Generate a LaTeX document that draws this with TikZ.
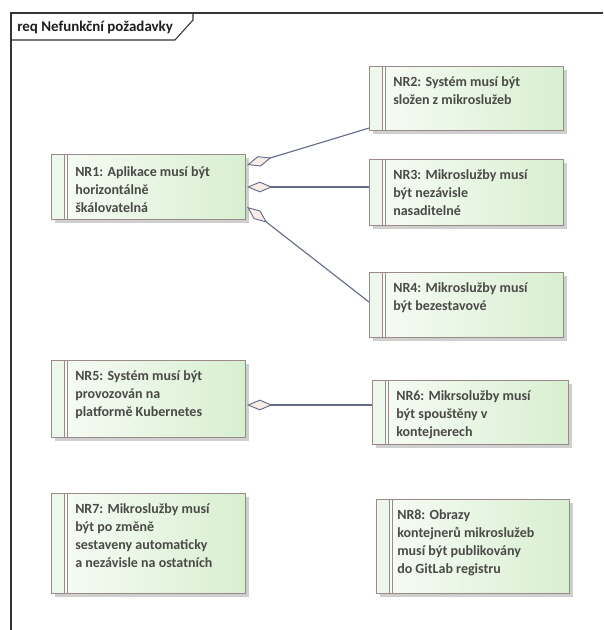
\documentclass[tikz,border=0pt]{standalone}
\usepackage{fontspec}
\setmainfont{Carlito}
\usetikzlibrary{arrows.meta,calc}

\definecolor{frameline}{HTML}{333333}
\definecolor{titletext}{HTML}{1E1E1E}
\definecolor{boxline}{HTML}{9C8A8A}
\definecolor{boxleft}{HTML}{F8FCF6}
\definecolor{boxright}{HTML}{D8EFD1}
\definecolor{stripfill}{HTML}{EEF7EC}
\definecolor{reqtext}{HTML}{4A4A46}
\definecolor{linkline}{HTML}{646C8A}
\definecolor{diafill}{HTML}{F8ECE6}
\definecolor{shadowc}{HTML}{CFCFCF}

\begin{document}
\begin{tikzpicture}[x=0.75pt,y=-0.75pt,
  boxsize/.style 2 args={minimum width=#1*0.75pt, minimum height=#2*0.75pt},
  reqbox/.style={rectangle, draw=boxline, line width=0.8pt, inner sep=0pt,
    anchor=north west, left color=boxleft, right color=boxright,
    preaction={fill=shadowc, transform canvas={xshift=2.5pt,yshift=-2.5pt}},
    path picture={
      \fill[stripfill] (path picture bounding box.north west)
        rectangle ($(path picture bounding box.south west)+(13,0)$);
      \draw[boxline, line width=0.7pt]
        ($(path picture bounding box.north west)+(13,0)$) --
        ($(path picture bounding box.south west)+(13,0)$);
      \draw[boxline, line width=0.7pt]
        ($(path picture bounding box.north west)+(16,0)$) --
        ($(path picture bounding box.south west)+(16,0)$);
    }},
  reqtxt/.style={anchor=north west, inner sep=0pt, align=left, text=reqtext,
    font=\fontsize{10.5}{13.5}\selectfont\bfseries},
  agg/.style={draw=linkline, line width=0.85pt,
    {Diamond[fill=diafill, length=19pt, width=8pt, line width=0.7pt]}-}
]
\useasboundingbox (0,0) rectangle (603,630);

% diagram frame with its name tab
\draw[frameline, line width=0.8pt] (11,630) -- (11,13) -- (603,13);
\draw[frameline, line width=0.8pt] (11,40) -- (175,40) -- (193,20) -- (193,13);
\node[anchor=west, inner sep=0pt, text=titletext,
  font=\fontsize{11.2}{13}\selectfont\bfseries] (title) at (17,27)
  {req Nefunkční požadavky};

% requirement boxes
\node[reqbox, boxsize={194}{65}]  (nr1) at (51,154)  {};
\node[reqbox, boxsize={194}{64}]  (nr2) at (369,66)  {};
\node[reqbox, boxsize={194}{66}]  (nr3) at (369,159) {};
\node[reqbox, boxsize={194}{65}]  (nr4) at (369,272) {};
\node[reqbox, boxsize={194}{77}]  (nr5) at (51,360)  {};
\node[reqbox, boxsize={196}{64}]  (nr6) at (372,380) {};
\node[reqbox, boxsize={194}{100}] (nr7) at (51,493)  {};
\node[reqbox, boxsize={193}{94}]  (nr8) at (376,499) {};

% requirement texts
\node[reqtxt] (nr1t) at ($(nr1.north west)+(24,12)$)
  {NR1: Aplikace musí být\\horizontálně\\škálovatelná};
\node[reqtxt] (nr2t) at ($(nr2.north west)+(24,10)$)
  {NR2: Systém musí být\\složen z mikroslužeb};
\node[reqtxt] (nr3t) at ($(nr3.north west)+(24,10)$)
  {NR3: Mikroslužby musí\\být nezávisle\\nasaditelné};
\node[reqtxt] (nr4t) at ($(nr4.north west)+(24,10)$)
  {NR4: Mikroslužby musí\\být bezestavové};
\node[reqtxt] (nr5t) at ($(nr5.north west)+(24,10)$)
  {NR5: Systém musí být\\provozován na\\platformě Kubernetes};
\node[reqtxt] (nr6t) at ($(nr6.north west)+(24,10)$)
  {NR6: Mikrsolužby musí\\být spouštěny v\\kontejnerech};
\node[reqtxt] (nr7t) at ($(nr7.north west)+(24,10)$)
  {NR7: Mikroslužby musí\\být po změně\\sestaveny automaticky\\a nezávisle na ostatních};
\node[reqtxt] (nr8t) at ($(nr8.north west)+(21,10)$)
  {NR8: Obrazy\\kontejnerů mikroslužeb\\musí být publikovány\\do GitLab registru};

% aggregation end points
\coordinate (s1) at ($(nr1.north east)+(1,11)$);
\coordinate (e1) at ($(nr2.south west)+(0,-3)$);
\coordinate (s2) at ($(nr1.north east)+(1,33)$);
\coordinate (e2) at (nr3.west |- s2);
\coordinate (s3) at ($(nr1.north east)+(1,53)$);
\coordinate (e3) at ($(nr4.north west)+(0,30)$);
\coordinate (s4) at ($(nr5.north east)+(1,45)$);
\coordinate (e4) at (nr6.west |- s4);

% aggregation connectors
\draw[agg] (s1) -- (e1);
\draw[agg] (s2) -- (e2);
\draw[agg] (s3) -- (e3);
\draw[agg] (s4) -- (e4);
\end{tikzpicture}
\end{document}
